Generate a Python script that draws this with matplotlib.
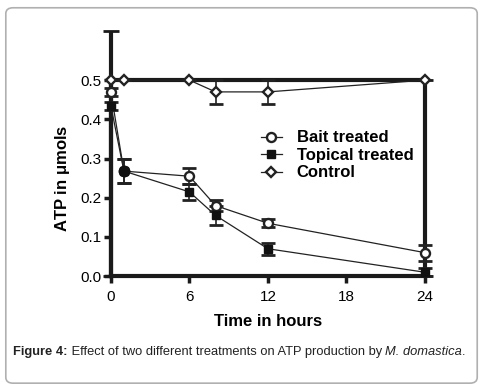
import matplotlib
matplotlib.use('Agg')
import matplotlib.pyplot as plt
from matplotlib.patches import FancyBboxPatch

plt.rcParams['font.family'] = ['Liberation Sans', 'DejaVu Sans']

# Data
hours = [0, 1, 6, 8, 12, 24]
bait = [0.47, 0.268, 0.255, 0.18, 0.135, 0.06]
bait_err = [0.01, 0.03, 0.02, 0.015, 0.01, 0.02]
topical = [0.435, 0.268, 0.215, 0.155, 0.07, 0.01]
topical_err = [0.01, 0.03, 0.02, 0.025, 0.015, 0.01]
control = [0.5, 0.5, 0.5, 0.47, 0.47, 0.5]
control_err_lo = [0.5, 0.0, 0.0, 0.03, 0.03, 0.5]
control_err_hi = [0.125, 0.0, 0.0, 0.03, 0.03, 0.0]
yticks = [0.0, 0.1, 0.2, 0.3, 0.4, 0.5]
xticks = [0, 6, 12, 18, 24]
caption = [('Figure 4:', 'normal', 'bold'),
           (' Effect of two different treatments on ATP production by ', 'normal', 'normal'),
           ('M. domastica', 'italic', 'normal'),
           ('.', 'normal', 'normal')]

fig = plt.figure(figsize=(4.84, 3.89), dpi=100)

# frame around the figure
frame = FancyBboxPatch((0.012, 0.015), 0.974, 0.965, boxstyle='round,pad=0,rounding_size=0.015',
                       transform=fig.transFigure, facecolor='none', edgecolor='#b0b0b0', lw=1.2,
                       zorder=-1)
fig.patches.append(frame)

ax = fig.add_axes([0.229, 0.290, 0.649, 0.504])
ax.patch.set_alpha(0)
ax.set_xlim(0, 24)
ax.set_ylim(0, 0.5)

# thick control band
ax.plot([hours[0], hours[-1]], [control[0], control[-1]], color='#1a1a1a', lw=3, clip_on=False, zorder=2)
big = [0, 5]
ax.errorbar([hours[i] for i in big], [control[i] for i in big],
            yerr=[[control_err_lo[i] for i in big], [control_err_hi[i] for i in big]],
            fmt='none', ecolor='#1a1a1a', elinewidth=3, capsize=6, capthick=2, clip_on=False, zorder=2)

small = [1, 2, 3, 4]
ax.errorbar([hours[i] for i in small], [control[i] for i in small],
            yerr=[[control_err_lo[i] for i in small], [control_err_hi[i] for i in small]],
            fmt='none', ecolor='#222222', elinewidth=1.2, capsize=5, capthick=2, clip_on=False)

ax.errorbar(hours, bait, yerr=bait_err, fmt='none', ecolor='#222222', elinewidth=1.2,
            capsize=5, capthick=2, clip_on=False)
ax.errorbar(hours, topical, yerr=topical_err, fmt='none', ecolor='#222222', elinewidth=1.2,
            capsize=5, capthick=2, clip_on=False)

ax.plot(hours, bait, color='#222222', lw=0.9, marker='o', ms=6.5, mfc='white', mec='#222222',
        mew=1.7, clip_on=False, label='Bait treated', zorder=4)
ax.plot(hours, topical, color='#222222', lw=0.9, marker='s', ms=6, mfc='#111111', mec='#111111',
        clip_on=False, label='Topical treated', zorder=4)
ax.plot(hours, control, color='#222222', lw=0.9, marker='D', ms=5.5, mfc='white', mec='#222222',
        mew=1.7, clip_on=False, label='Control', zorder=4)
# overlapping point at 1 h shows as filled circle
ax.plot(hours[1], bait[1], marker='o', ms=7.5, color='#111111', clip_on=False, zorder=5)

for s in ['top', 'right']:
    ax.spines[s].set_visible(False)
for s in ['left', 'bottom']:
    ax.spines[s].set_linewidth(3)
    ax.spines[s].set_color('#1a1a1a')

ax.set_xticks(xticks)
ax.set_yticks(yticks)
ax.set_yticklabels(['%.1f' % v for v in yticks])
ax.tick_params(axis='both', direction='out', width=2.5, length=5, labelsize=11, pad=2, color='#1a1a1a')
ax.tick_params(axis='x', pad=5)

ax.set_xlabel('Time in hours', fontsize=12, fontweight='bold', labelpad=7)
ax.set_ylabel('ATP in $\\mathregular{\\mu}$mols', fontsize=12, fontweight='bold', labelpad=6)

ax.legend(loc='upper left', bbox_to_anchor=(0.43, 0.82), frameon=False, handlelength=1.25,
          handletextpad=0.9, labelspacing=0.15, prop={'weight': 'bold', 'size': 12})

# caption, pieces placed one after another
renderer = fig.canvas.get_renderer()
x0 = 0.027
for txt, style, weight in caption:
    t = fig.text(x0, 0.087, txt, fontsize=9.3, style=style, fontweight=weight, color='#222222')
    bb = t.get_window_extent(renderer=renderer)
    x0 += bb.width / fig.bbox.width

fig.savefig('out.png', dpi=100)
